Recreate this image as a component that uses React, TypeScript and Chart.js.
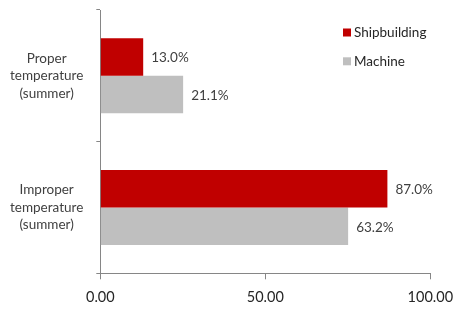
import { useEffect, useRef } from 'react';
import { Chart, registerables } from 'chart.js';

Chart.register(...registerables);

const categories: string[][] = [
  ['Proper', 'temperature', '(summer)'],
  ['Improper', 'temperature', '(summer)'],
];
const seriesNames = ['Shipbuilding', 'Machine'];
const shipbuildingValues = [13.0, 87.0];
const machineValues = [25.1, 75.1];
const shipbuildingLabels = ['13.0%', '87.0%'];
const machineLabels = ['21.1%', '63.2%'];
const xTickValues = [0, 50, 100];

const RED = '#C00000';
const GRAY = '#BFBFBF';
const AXIS = '#868686';
const FONT = 'Lato, "Open Sans", sans-serif';

const dataLabelPlugin = {
  id: 'dataLabels',
  afterDatasetsDraw(chart: any) {
    const ctx = chart.ctx;
    ctx.save();
    ctx.font = `13.5px ${FONT}`;
    ctx.fillStyle = '#404040';
    ctx.textAlign = 'left';
    ctx.textBaseline = 'middle';
    chart.data.datasets.forEach((ds: any, i: number) => {
      const meta = chart.getDatasetMeta(i);
      meta.data.forEach((el: any, j: number) => {
        const txt = ds.valueLabels[j];
        ctx.fillText(txt, el.x + 8, el.y + 1);
      });
    });
    ctx.restore();
  },
};

const legendPlugin = {
  id: 'customLegend',
  afterDraw(chart: any) {
    const ctx = chart.ctx;
    ctx.save();
    ctx.font = `13.5px ${FONT}`;
    ctx.textAlign = 'left';
    ctx.textBaseline = 'middle';
    chart.data.datasets.forEach((ds: any, i: number) => {
      const cy = 32.5 + i * 28.8;
      ctx.fillStyle = ds.backgroundColor;
      ctx.fillRect(343, cy - 4, 8, 8);
      ctx.fillStyle = '#262626';
      ctx.fillText(ds.label, 354, cy);
    });
    ctx.restore();
  },
};

export default function App() {
  const ref = useRef<HTMLCanvasElement | null>(null);
  useEffect(() => {
    if (!ref.current) return;
    const chart = new Chart(ref.current, {
      type: 'bar',
      data: {
        labels: categories as any,
        datasets: [
          {
            label: seriesNames[0],
            data: shipbuildingValues,
            backgroundColor: RED,
            valueLabels: shipbuildingLabels,
            categoryPercentage: 0.57,
            barPercentage: 1.0,
          } as any,
          {
            label: seriesNames[1],
            data: machineValues,
            backgroundColor: GRAY,
            valueLabels: machineLabels,
            categoryPercentage: 0.57,
            barPercentage: 1.0,
          } as any,
        ],
      },
      options: {
        indexAxis: 'y',
        animation: false,
        responsive: false,
        devicePixelRatio: 1,
        layout: { padding: { top: 10, right: 23.7, left: 0, bottom: 0 } },
        plugins: {
          legend: { display: false },
          tooltip: { enabled: false },
        },
        scales: {
          x: {
            type: 'linear',
            min: 0,
            max: 100,
            afterBuildTicks: (scale: any) => {
              scale.ticks = xTickValues.map((v) => ({ value: v }));
            },
            afterFit: (scale: any) => {
              scale.height = 35.7;
              scale.paddingLeft = 0;
              scale.paddingRight = 0;
            },
            ticks: {
              color: '#262626',
              font: { family: FONT, size: 14.5 },
              padding: 9,
              maxRotation: 0,
              callback: (v: any) => Number(v).toFixed(2),
            },
            grid: {
              drawOnChartArea: false,
              drawTicks: true,
              tickLength: 6,
              color: AXIS,
            },
            border: { display: true, color: AXIS },
          },
          y: {
            type: 'category',
            offset: true,
            afterFit: (scale: any) => {
              scale.width = 100.3;
              scale.paddingTop = 0;
              scale.paddingBottom = 0;
            },
            ticks: {
              crossAlign: 'center',
              color: '#404040',
              font: { family: FONT, size: 13.5, lineHeight: 1.3 },
              padding: 13,
            },
            grid: {
              offset: true,
              drawOnChartArea: false,
              drawTicks: true,
              tickLength: 4,
              color: AXIS,
            },
            border: { display: true, color: AXIS },
          },
        },
      } as any,
      plugins: [dataLabelPlugin, legendPlugin],
    });
    return () => chart.destroy();
  }, []);
  return (
    <div style={{ position: 'absolute', left: 0, top: 0, width: 454, height: 309, background: '#fff' }}>
      <canvas ref={ref} width={454} height={309} style={{ display: 'block' }} />
    </div>
  );
}
